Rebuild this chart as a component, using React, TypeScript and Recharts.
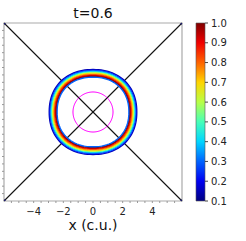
import React from 'react';
import { ScatterChart, Scatter, XAxis, YAxis, ReferenceLine, ReferenceArea, BarChart, Bar } from 'recharts';

// ---- data ----
const xMajorTicks = [-4, -2, 0, 2, 4];
const minorTicks = [-5.5, -5, -4.5, -4, -3.5, -3, -2.5, -2, -1.5, -1, -0.5, 0, 0.5, 1, 1.5, 2, 2.5, 3, 3.5, 4, 4.5, 5, 5.5];
const colorbarTicks = [0.1, 0.2, 0.3, 0.4, 0.5, 0.6, 0.7, 0.8, 0.9, 1.0];
const domainLimits = [-6, 6];
// ring profile: radius (x-direction, c.u.) and field value, outer -> inner
const ringRadii = [2.95, 2.89, 2.83, 2.77, 2.71, 2.65, 2.59, 2.53, 2.47, 2.42];
const ringValues = [0.15, 0.25, 0.36, 0.48, 0.62, 0.72, 0.82, 0.92, 1.0, 0.3];
const ringAspect = 0.97;
const innerCircleRadius = 1.35;
const cornerPoints = [
  { x: -6, y: -6 },
  { x: 6, y: 6 },
  { x: -6, y: 6 },
  { x: 6, y: -6 },
];
const colorbarData = [{ name: 'cb', range: [0.1, 1.0] }];

const FONT = '"DejaVu Sans", Verdana, sans-serif';

function jet(v: number): string {
  const t = Math.max(0, Math.min(1, (v - 0.1) / 0.9));
  const cl = (a: number) => Math.round(255 * Math.max(0, Math.min(1, a)));
  const r = cl(1.5 - Math.abs(4 * t - 3));
  const g = cl(1.5 - Math.abs(4 * t - 2));
  const b = cl(1.5 - Math.abs(4 * t - 1));
  return `rgb(${r},${g},${b})`;
}

function closedCurve(rx: number, ry: number, n: number) {
  const pts: { x: number; y: number }[] = [];
  const N = 120;
  for (let i = 0; i <= N; i++) {
    const a = (i / N) * Math.PI * 2;
    const c = Math.cos(a);
    const s = Math.sin(a);
    pts.push({
      x: rx * Math.sign(c) * Math.pow(Math.abs(c), 2 / n),
      y: ry * Math.sign(s) * Math.pow(Math.abs(s), 2 / n),
    });
  }
  return pts;
}

const noShape = () => <g />;

const cornerShape = (p: any) => (
  <rect x={p.cx - 1.5} y={p.cy - 1.5} width={3} height={3} fill="#1a1a6e" />
);

export default function App() {
  const gradStops = colorbarTicks.map((v) => ({ off: (v - 0.1) / 0.9, c: jet(v) }));
  return (
    <div style={{ position: 'absolute', left: 0, top: 0, width: 246, height: 241, background: '#fff', fontFamily: FONT }}>
      <div style={{ position: 'absolute', left: 0, top: 5, width: 186, textAlign: 'center', fontSize: 14, lineHeight: '16px', color: '#111' }}>
        t=0.6
      </div>
      <div style={{ position: 'absolute', left: 0, top: 217, width: 186, textAlign: 'center', fontSize: 14, lineHeight: '16px', color: '#111' }}>
        x (c.u.)
      </div>
      <div style={{ position: 'absolute', left: 0, top: 0 }}>
        <ScatterChart width={190} height={241} margin={{ top: 23, right: 8, left: 0, bottom: 0 }}>
          <XAxis
            type="number"
            dataKey="x"
            domain={domainLimits}
            allowDataOverflow
            ticks={minorTicks}
            interval={0}
            tickFormatter={(v: number) => (xMajorTicks.includes(v) ? (v < 0 ? `\u2212${Math.abs(v)}` : `${v}`) : '')}
            tickSize={2}
            tickMargin={5}
            height={40}
            axisLine={false}
            tickLine={{ stroke: '#999' }}
            tick={{ fontSize: 10, fill: '#222', fontFamily: FONT }}
          />
          <YAxis
            type="number"
            dataKey="y"
            domain={domainLimits}
            allowDataOverflow
            ticks={minorTicks}
            interval={0}
            tickFormatter={() => ''}
            tickSize={2}
            width={4}
            axisLine={false}
            tickLine={{ stroke: '#999' }}
          />
          <ReferenceArea x1={-6} x2={6} y1={-6} y2={6} fill="none" stroke="#aaa" strokeWidth={1.2} ifOverflow="visible" />
          {ringRadii.map((r, i) => (
            <Scatter
              key={`ring${i}`}
              data={closedCurve(r, r * ringAspect, 2.2)}
              fill={jet(ringValues[i])}
              line={{ stroke: jet(ringValues[i]), strokeWidth: 1.4 }}
              lineType="joint"
              shape={noShape}
              isAnimationActive={false}
            />
          ))}
          <Scatter
            data={closedCurve(innerCircleRadius, innerCircleRadius, 2)}
            fill="#ff00ff"
            line={{ stroke: '#ff00ff', strokeWidth: 1 }}
            lineType="joint"
            shape={noShape}
            isAnimationActive={false}
          />
          <ReferenceLine segment={[{ x: -6, y: -6 }, { x: 6, y: 6 }]} stroke="#111" strokeWidth={1.1} ifOverflow="visible" />
          <ReferenceLine segment={[{ x: -6, y: 6 }, { x: 6, y: -6 }]} stroke="#111" strokeWidth={1.1} ifOverflow="visible" />
          <Scatter data={cornerPoints} fill="#1a1a6e" shape={cornerShape} isAnimationActive={false} />
        </ScatterChart>
      </div>
      <div style={{ position: 'absolute', left: 190, top: 0 }}>
        <BarChart width={56} height={241} data={colorbarData} margin={{ top: 23, right: 0, left: 6, bottom: 40 }} barCategoryGap={0}>
          <defs>
            <linearGradient id="jetGrad" x1="0" y1="1" x2="0" y2="0">
              {gradStops.map((s, i) => (
                <stop key={i} offset={s.off} stopColor={s.c} />
              ))}
            </linearGradient>
          </defs>
          <XAxis dataKey="name" hide />
          <YAxis
            orientation="right"
            type="number"
            domain={[0.1, 1.0]}
            ticks={colorbarTicks}
            interval={0}
            tickFormatter={(v: number) => v.toFixed(1)}
            width={41}
            tickSize={3}
            tickMargin={3}
            axisLine={false}
            tickLine={{ stroke: '#444' }}
            tick={{ fontSize: 10, fill: '#222', fontFamily: FONT }}
          />
          <Bar dataKey="range" fill="url(#jetGrad)" stroke="#555" strokeWidth={0.6} isAnimationActive={false} />
        </BarChart>
      </div>
    </div>
  );
}
